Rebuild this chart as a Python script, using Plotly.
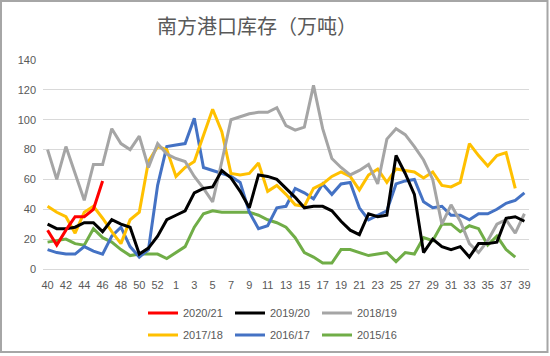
import plotly.graph_objects as go

weeks = [str(w) for w in list(range(40, 54)) + list(range(1, 40))]

s2020 = [26, 16, 26, 35, 35, 40, 59]
s2019 = [30, 27, 27, 28, 31, 31, 25, 33, 30, 28, 10, 14, 22, 33, 36, 39, 51, 54, 55, 66,
         61, 52, 41, 63, 62, 60, 54, 48, 41, 42, 42, 39, 32, 26, 23, 37, 35, 36, 76, 64,
         50, 11, 20, 15, 13, 15, 8, 17, 17, 18, 34, 35, 32]
s2018 = [80, 60, 82, 64, 46, 70, 70, 94, 84, 80, 89, 68, 84, 77, 74, 72, 62, 54, 45, 72,
         100, 102, 104, 105, 105, 108, 96, 93, 95, 123, 94, 74, 68, 63, 66, 70, 57, 87, 94, 90,
         82, 73, 60, 30, 43, 32, 17, 11, 19, 30, 33, 24, 37]
s2017 = [42, 38, 35, 24, 38, 42, 34, 25, 17, 33, 38, 72, 82, 80, 62, 68, 72, 90, 107, 92,
         64, 63, 64, 71, 52, 56, 50, 43, 42, 54, 57, 62, 65, 62, 53, 63, 67, 58, 67, 66,
         65, 61, 65, 56, 55, 58, 84, 76, 69, 76, 78, 54]
s2016 = [13, 11, 10, 10, 15, 12, 10, 22, 28, 15, 8, 13, 56, 82, 83, 84, 101, 68, 66, 64,
         62, 58, 38, 27, 29, 41, 42, 54, 51, 47, 57, 50, 57, 58, 41, 33, 36, 39, 57, 59,
         60, 45, 41, 42, 36, 36, 33, 37, 37, 40, 44, 46, 51]
s2015 = [18, 19, 20, 17, 16, 27, 21, 18, 13, 9, 10, 10, 10, 7, 11, 15, 28, 37, 39, 38,
         38, 38, 38, 36, 33, 31, 28, 21, 11, 8, 4, 4, 13, 13, 11, 9, 10, 11, 5, 11,
         10, 21, 19, 30, 30, 25, 29, 27, 16, 22, 13, 8]

series = [
    ("2020/21", s2020, "#FF0000", "legend", 1),
    ("2019/20", s2019, "#000000", "legend", 2),
    ("2018/19", s2018, "#A5A5A5", "legend", 3),
    ("2017/18", s2017, "#FFC000", "legend2", 4),
    ("2016/17", s2016, "#4472C4", "legend2", 5),
    ("2015/16", s2015, "#70AD47", "legend2", 6),
]

W, H = 550, 356
ML, MR, MT, MB = 43, 21, 60, 87
PW, PH = W - ML - MR, H - MT - MB

def px_x(px):
    return (px - ML) / PW

def px_y(py):
    return (H - MB - py) / PH

fig = go.Figure()
for name, vals, color, leg, rank in reversed(series):
    fig.add_trace(go.Scatter(
        x=weeks[:len(vals)], y=vals, name=name, mode="lines",
        line=dict(color=color, width=3), legend=leg, legendrank=rank,
    ))

tick_font = dict(family="Liberation Sans, Arial, sans-serif", size=11, color="#595959")
leg_font = dict(family="Liberation Sans, Arial, sans-serif", size=11, color="#595959")

fig.update_layout(
    width=W, height=H,
    margin=dict(l=ML, r=MR, t=MT, b=MB, autoexpand=False),
    paper_bgcolor="white", plot_bgcolor="white",
    title=dict(text="南方港口库存（万吨）", x=257 / W, xanchor="center",
               y=1 - 27 / H, yanchor="middle",
               font=dict(family="Noto Sans CJK SC", size=20, color="#595959")),
    xaxis=dict(type="category", categoryorder="array", categoryarray=weeks,
               range=[-0.5, len(weeks) - 0.5],
               tickmode="array", tickvals=weeks[::2], ticktext=weeks[::2],
               showgrid=False, showline=True, linecolor="#D9D9D9", linewidth=1,
               ticks="", tickfont=tick_font, ticklabelstandoff=6, zeroline=False),
    yaxis=dict(range=[0, 140], tickvals=list(range(0, 141, 20)),
               showgrid=True, gridcolor="#D9D9D9", gridwidth=1,
               zeroline=False, showline=False, ticks="", tickfont=tick_font,
               ticklabelstandoff=6),
    legend=dict(orientation="h", x=px_x(143), xanchor="left", y=px_y(313), yanchor="middle",
                entrywidth=42, entrywidthmode="pixels", bgcolor="rgba(0,0,0,0)", font=leg_font),
    legend2=dict(orientation="h", x=px_x(143), xanchor="left", y=px_y(335), yanchor="middle",
                 entrywidth=42, entrywidthmode="pixels", bgcolor="rgba(0,0,0,0)", font=leg_font),
    showlegend=True,
    shapes=[dict(type="rect", xref="paper", yref="paper",
                 x0=px_x(1), x1=px_x(547.5), y0=px_y(352), y1=px_y(1),
                 line=dict(color="#A6A6A6", width=2), fillcolor="rgba(0,0,0,0)", layer="below")],
)

fig.write_html("out.html", config={"displayModeBar": False},
               post_script="document.body.style.margin='0';")
